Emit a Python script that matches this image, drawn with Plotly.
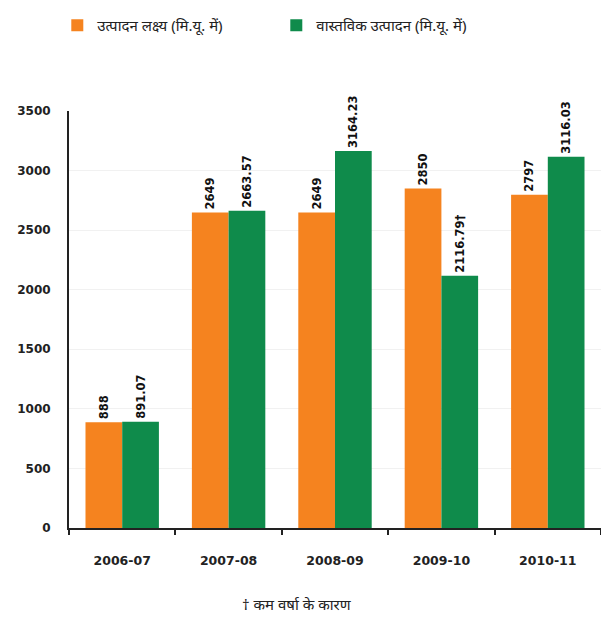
import plotly.graph_objects as go

years = ["2006-07", "2007-08", "2008-09", "2009-10", "2010-11"]
target = [888, 2649, 2649, 2850, 2797]
actual = [891.07, 2663.57, 3164.23, 2116.79, 3116.03]
target_labels = ["888", "2649", "2649", "2850", "2797"]
actual_labels = ["891.07", "2663.57", "3164.23", "2116.79\u2020", "3116.03"]
y_ticks = [0, 500, 1000, 1500, 2000, 2500, 3000, 3500]

ORANGE = "#F5831F"
GREEN = "#0F8B4B"
FONT = "Noto Sans, DejaVu Sans, sans-serif"
NUM_FONT = "DejaVu Sans, sans-serif"

label_font = dict(size=11.5, color="#111", family=NUM_FONT, weight="bold")

fig = go.Figure()
fig.add_trace(go.Bar(
    x=years, y=target, name="उत्पादन लक्ष्य (मि.यू. में)",
    marker_color=ORANGE, marker_line_width=0,
    text=target_labels, textposition="outside", textangle=-90,
    constraintext="none", textfont=label_font, cliponaxis=False,
))
fig.add_trace(go.Bar(
    x=years, y=actual, name="वास्तविक उत्पादन (मि.यू. में)",
    marker_color=GREEN, marker_line_width=0,
    text=actual_labels, textposition="outside", textangle=-90,
    constraintext="none", textfont=label_font, cliponaxis=False,
))

fig.update_layout(
    width=601, height=617,
    margin=dict(l=69, r=0, t=111, b=89),
    paper_bgcolor="white", plot_bgcolor="white",
    barmode="group", bargap=0.31, bargroupgap=0,
    font=dict(family=FONT, color="#222", size=12),
    showlegend=True,
    legend=dict(
        orientation="h", x=-0.022, xanchor="left", y=1.205, yanchor="middle",
        entrywidth=174, entrywidthmode="pixels",
        font=dict(size=15, color="#222", family=FONT),
        itemwidth=30, traceorder="normal",
    ),
    xaxis=dict(
        type="category", range=[-0.5, 4.5], tickson="boundaries",
        showline=True, linecolor="#222", linewidth=2,
        ticks="outside", ticklen=5, tickcolor="#222", tickwidth=2,
        ticklabelstandoff=20,
        tickfont=dict(size=12.5, color="#222", family=NUM_FONT, weight="bold"),
        showgrid=False, zeroline=False,
    ),
    yaxis=dict(
        range=[0, 3500], tickvals=y_ticks,
        showline=True, linecolor="#222", linewidth=2,
        ticks="", ticklabelstandoff=14,
        tickfont=dict(size=12, color="#222", family=NUM_FONT, weight="bold"),
        showgrid=True, gridcolor="#F1F1F1", gridwidth=1, zeroline=False,
    ),
)

fig.add_annotation(
    text="\u2020 कम वर्षा के कारण", xref="paper", yref="paper",
    x=(297 - 69) / 532, y=-(604 - 528) / 417, xanchor="center", yanchor="middle",
    showarrow=False, font=dict(size=15, color="#222", family=FONT),
)

fig.write_html("out.html")
